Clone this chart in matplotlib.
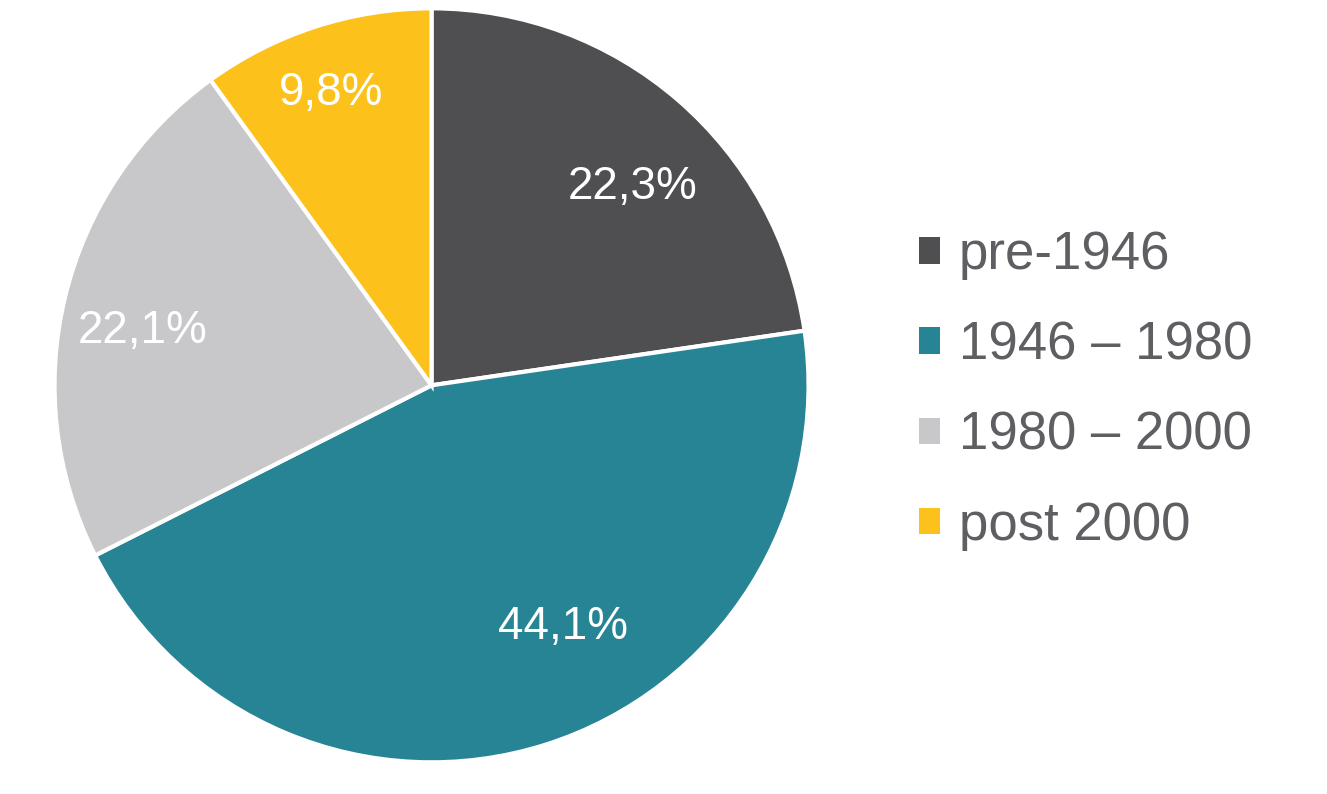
import numpy as np
import matplotlib.pyplot as plt

plt.rcParams['font.family'] = ['Liberation Sans', 'DejaVu Sans']

categories = ['pre-1946', '1946 – 1980', '1980 – 2000', 'post 2000']
shares = [22.3, 44.1, 22.1, 9.8]
colors = ['#4f4f51', '#278495', '#c8c8ca', '#fcc11a']

fig = plt.figure(figsize=(13.27, 7.94), dpi=100)
ax = fig.add_axes([0.0411, 0.0399, 0.5682, 0.9496])

wedges, texts, autotexts = ax.pie(
    shares, colors=colors, startangle=90, counterclock=False,
    autopct=lambda p: '', pctdistance=0.77,
    wedgeprops=dict(edgecolor='white', linewidth=3))

# nudge labels the way the original (best-fit) placement puts them
label_r = [0.75, 0.73, 0.78, 0.82]
label_dang = [-4.5, 11, 3, 1]
for t, v, w, r, da in zip(autotexts, shares, wedges, label_r, label_dang):
    mid = np.deg2rad((w.theta1 + w.theta2) / 2 + da)
    t.set_position((r * np.cos(mid), r * np.sin(mid)))
    t.set_text(f'{v:.1f}%'.replace('.', ','))
    t.set_color('white')
    t.set_fontsize(33)
ax.set_xlim(-1.0, 1.0)
ax.set_ylim(-1.0, 1.0)
ax.set_aspect('equal')

leg = fig.legend(wedges, categories, loc='center left',
                 bbox_to_anchor=(0.657, 0.508), frameon=False,
                 fontsize=38, handlelength=0.4, handleheight=0.4,
                 handletextpad=0.35, labelspacing=0.76, labelcolor='#5f5e62')
for h in leg.legend_handles:
    h.set_edgecolor('none')

fig.savefig('out.png', dpi=100)
